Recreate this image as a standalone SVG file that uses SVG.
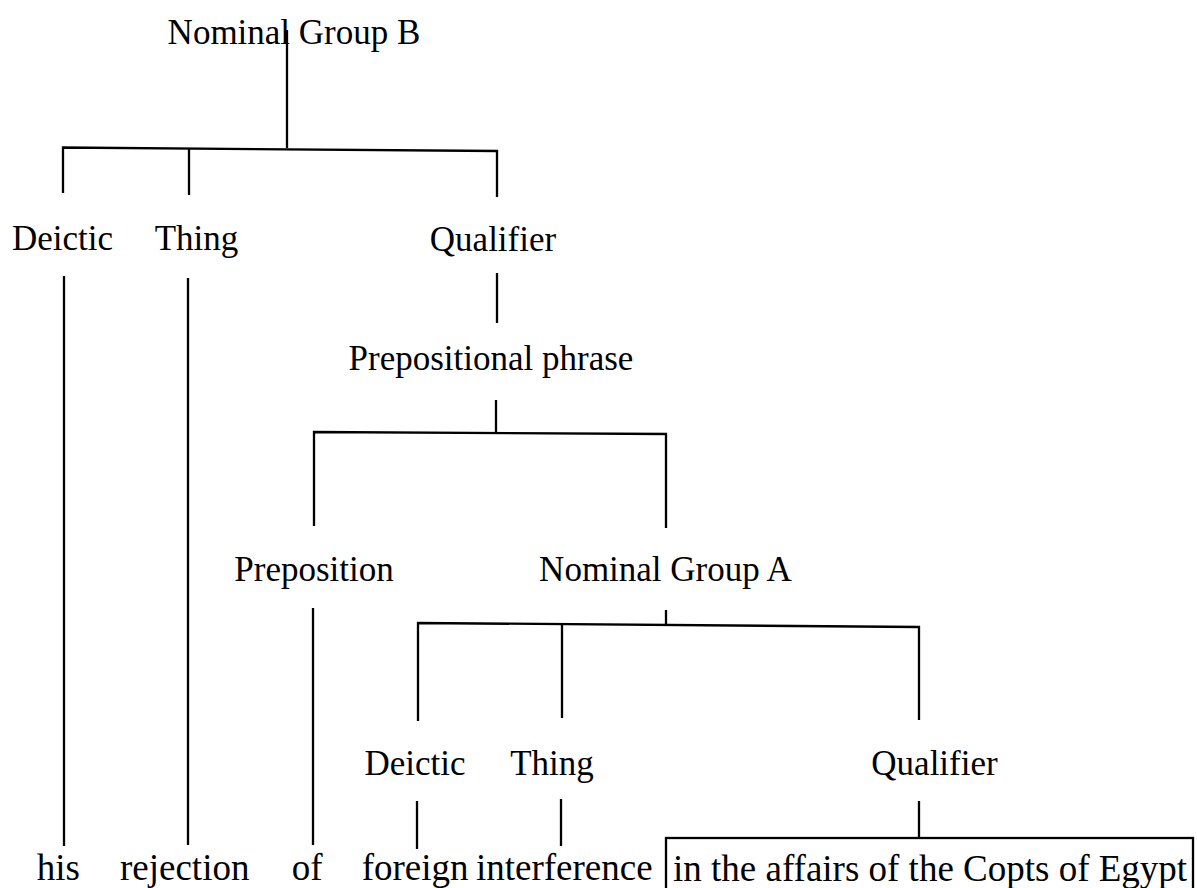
<svg xmlns="http://www.w3.org/2000/svg" width="1197" height="888" viewBox="0 0 1197 888">
<style>
.lbl{font-family:"Liberation Serif","Times New Roman",serif;font-size:35px;fill:#000;text-anchor:middle}
.wrd{font-family:"Liberation Serif","Times New Roman",serif;font-size:37px;fill:#000}
.ln{stroke:#000;stroke-width:2.3;fill:none}
</style>
<rect x="0" y="0" width="1197" height="888" fill="#fff"/>
<g id="connectors">
<path class="ln" d="M287 30 V148"/>
<path class="ln" d="M63 193 V147.5 L497 151 V197"/>
<path class="ln" d="M189 195 V148"/>
<path class="ln" d="M64 276 V846"/>
<path class="ln" d="M188 278 V845"/>
<path class="ln" d="M497 273 V323"/>
<path class="ln" d="M496 400 V433"/>
<path class="ln" d="M314 526 V432 L666 434 V528"/>
<path class="ln" d="M313 608 V845"/>
<path class="ln" d="M666 610 V624"/>
<path class="ln" d="M418 721 V623 L919 627 V720"/>
<path class="ln" d="M562 625 V718"/>
<path class="ln" d="M417 801 V849"/>
<path class="ln" d="M561 799 V846"/>
<path class="ln" d="M919 801 V838"/>
</g>
<g id="ngb"><text class="lbl" x="294" y="44">Nominal Group B</text></g>
<g id="deictic1"><text class="lbl" x="62.5" y="250">Deictic</text></g>
<g id="thing1"><text class="lbl" x="196.5" y="250">Thing</text></g>
<g id="qualifier1"><text class="lbl" x="493" y="251">Qualifier</text></g>
<g id="pp"><text class="lbl" x="491" y="370">Prepositional phrase</text></g>
<g id="preposition"><text class="lbl" x="314" y="581">Preposition</text></g>
<g id="nga"><text class="lbl" x="665.5" y="581">Nominal Group A</text></g>
<g id="deictic2"><text class="lbl" x="415" y="775">Deictic</text></g>
<g id="thing2"><text class="lbl" x="552" y="775">Thing</text></g>
<g id="qualifier2"><text class="lbl" x="934.5" y="775">Qualifier</text></g>
<g id="w-his"><text class="wrd" x="36.7" y="880">his</text></g>
<g id="w-rejection"><text class="wrd" x="120" y="880">rejection</text></g>
<g id="w-of"><text class="wrd" x="291.7" y="880">of</text></g>
<g id="w-foreign"><text class="wrd" x="361.7" y="880">foreign</text></g>
<g id="w-interference"><text class="wrd" x="476" y="880">interference</text></g>
<g id="w-qualifier">
<rect class="ln" x="666" y="838" width="527" height="60"/>
<text class="wrd" x="673" y="881">in the affairs of the Copts of Egypt</text>
</g>
</svg>
